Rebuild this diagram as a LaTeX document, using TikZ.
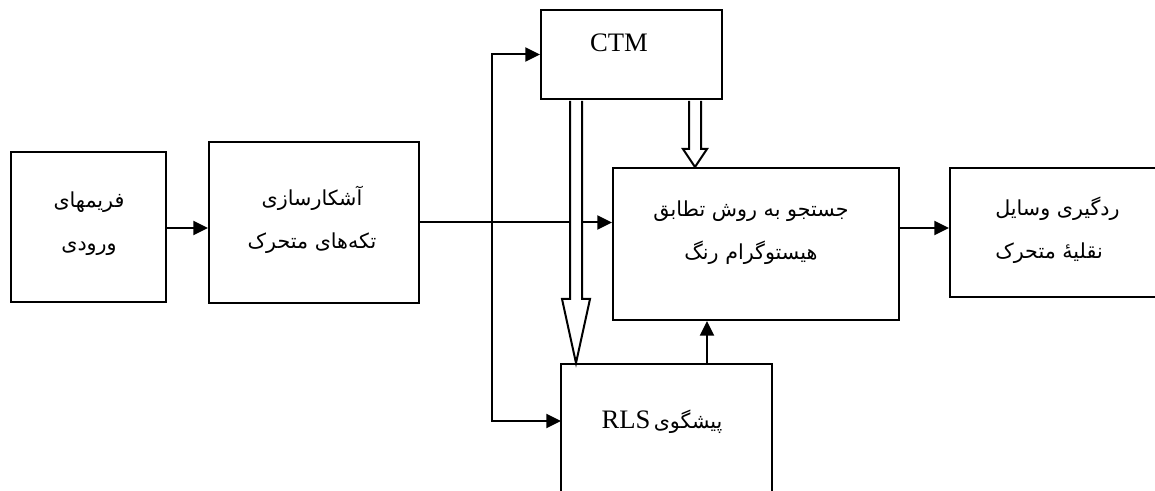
\documentclass[tikz,border=0pt]{standalone}
\usepackage{fontspec}
\setmainfont{Liberation Serif}
\newfontfamily\farsi[Script=Arabic]{DejaVu Sans}
\TeXXeTstate=1
\usetikzlibrary{arrows.meta,calc}

\tikzset{
  blk/.style={draw, line width=1.5pt, inner sep=0pt},
  fatxt/.style={font=\farsi\fontsize{15.5}{32}\selectfont, align=center, inner sep=0pt},
  latxt/.style={font=\fontsize{20}{24}\selectfont, inner sep=0pt},
  arr/.style={line width=1.5pt, -{Triangle[length=11pt,width=10.5pt]}},
  hollow/.style={draw, line width=1.5pt, fill=white, line join=miter},
}

\begin{document}
\begin{tikzpicture}[x=0.75pt, y=-0.75pt]
\useasboundingbox (0,0) rectangle (1155,491);
\clip (0,0) rectangle (1155,491);

% blocks
\node[blk, minimum width=116.25pt, minimum height=112.5pt]  (frames) at (88.5,227)  {};
\node[blk, minimum width=157.5pt,  minimum height=120.75pt] (detect) at (314,222.5) {};
\node[blk, minimum width=135.75pt, minimum height=66.75pt]  (ctm)    at (631.5,54.5) {};
\node[blk, minimum width=214.5pt,  minimum height=114pt]    (search) at (756,244)   {};
\node[blk, minimum width=187.5pt,  minimum height=96.75pt]  (track)  at (1075,232.5) {};
\node[blk, minimum width=158.25pt, minimum height=117pt]    (rls)    at (666.5,442) {};

% labels
\node[fatxt] (tframes) at (89,224) {\beginR فریمهای\endR\\\beginR ورودی\endR};
\node[fatxt] (tdetect) at (312,220) {\beginR آشکارسازی\endR\\\beginR تکه‌های متحرک\endR};
\node[latxt] (tctm) at (619,43) {CTM};
\node[fatxt] (tsearch) at (751,233) {\beginR جستجو به روش تطابق\endR\\\beginR هیستوگرام رنگ\endR};
\node[fatxt, align=left, anchor=west] (ttrack) at (995,230) {\beginR ردگیری وسایل\endR\\\beginR نقلیهٔ متحرک\endR};
\node[inner sep=0pt] (trls) at (662,422) {\beginR{\farsi\fontsize{15.5}{20}\selectfont پیشگوی} {\fontsize{20}{24}\selectfont\beginL RLS\endL}\endR};

% connectors
\draw[arr] (frames.east |- 0,228) -- (detect.west |- 0,228);
\draw[arr] (detect.east) -- (detect.east -| search.west);
\coordinate (split) at (492,222.5);
\coordinate (rlsin) at (561,421);
\draw[arr] (split) |- (ctm.west);
\draw[arr] (split) |- (rlsin);
\coordinate (rlsup) at (707,364);
\draw[arr] (rlsup) -- (rlsup |- search.south);
\coordinate (trackin) at (899,228);
\draw[arr] (trackin) -- (trackin -| track.west);

% hollow block arrows from CTM
\path (ctm.south) ++(-55.5,1) coordinate (l0);
\draw[hollow] ($(l0)+(-6,0)$) -- ($(l0)+(-6,198)$) -- ($(l0)+(-14,198)$)
  -- (l0 |- rls.north) -- ($(l0)+(14,198)$) -- ($(l0)+(6,198)$) -- ($(l0)+(6,0)$);
\path (ctm.south) ++(63.5,1) coordinate (r0);
\draw[hollow] ($(r0)+(-6,0)$) -- ($(r0)+(-6,48)$) -- ($(r0)+(-12,48)$)
  -- (r0 |- search.north) -- ($(r0)+(12,48)$) -- ($(r0)+(6,48)$) -- ($(r0)+(6,0)$);
\end{tikzpicture}
\end{document}
